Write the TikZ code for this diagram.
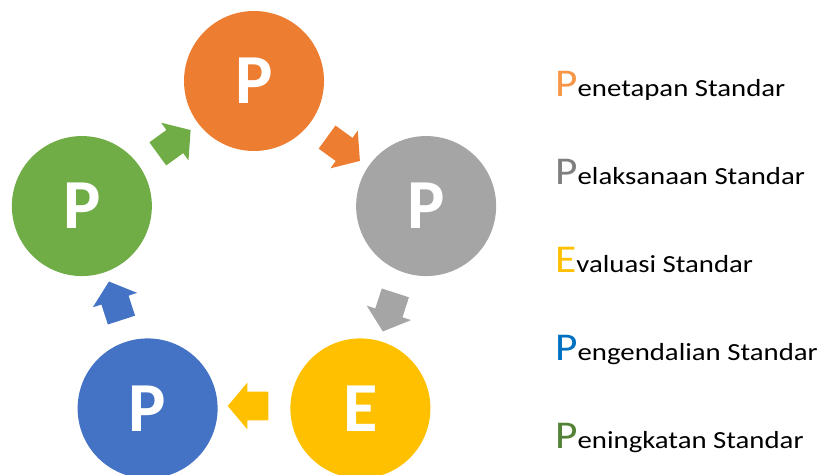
\documentclass[tikz,border=0pt]{standalone}
\usepackage{fontspec}
\setmainfont{Carlito}
\newfontfamily\keyfont[FakeStretch=1.17]{Carlito}
\newfontfamily\keyletter[FakeStretch=1.1]{Carlito}
\usetikzlibrary{shapes.arrows}

\definecolor{ppOrange}{HTML}{ED7D31}
\definecolor{ppGray}{HTML}{A5A5A5}
\definecolor{ppYellow}{HTML}{FFC000}
\definecolor{ppBlue}{HTML}{4472C4}
\definecolor{ppGreen}{HTML}{70AD47}
% letter colours of the legend
\definecolor{keyOrange}{HTML}{F79646}
\definecolor{keyGray}{HTML}{7F7F7F}
\definecolor{keyYellow}{HTML}{FFC000}
\definecolor{keyBlue}{HTML}{0070C0}
\definecolor{keyGreen}{HTML}{538135}

\tikzset{
  stage/.style={circle, minimum size=3.5cm, inner sep=0pt, text=white,
      font=\fontsize{50}{50}\selectfont\bfseries},
  flow/.style={single arrow, draw=none, minimum height=0.95cm, minimum width=1.15cm,
      inner sep=0.35cm, single arrow head extend=0.225cm, single arrow tip angle=100},
  keytext/.style={anchor=base west, inner sep=0pt, font=\keyfont\fontsize{17.5}{17.5}\selectfont}
}

\begin{document}
\begin{tikzpicture}[line join=round]
  \useasboundingbox (0,0) rectangle (20.6,11.875);
  \begin{scope}[shift={(6.35,5.325)}]
    \foreach \k/\col/\ltr in {0/ppOrange/P,1/ppGray/P,2/ppYellow/E,3/ppBlue/P,4/ppGreen/P} {
        \node [stage, fill=\col] (s\k) at ({90-72*\k}:4.525) {\ltr};
        \node [flow, fill=\col, rotate={-36-72*\k}] (a\k) at ({54-72*\k}:3.6) {};
      }
  \end{scope}

  \foreach \k/\col/\ltr/\rest in {0/keyOrange/P/enetapan,1/keyGray/P/elaksanaan,
      2/keyYellow/E/valuasi,3/keyBlue/P/engendalian,4/keyGreen/P/eningkatan} {
      \node [keytext] (k\k) at (13.875,9.45-2.2*\k) {{\keyletter\fontsize{28}{28}\selectfont\color{\col}\ltr}\rest{} Standar};
    }
\end{tikzpicture}
\end{document}
